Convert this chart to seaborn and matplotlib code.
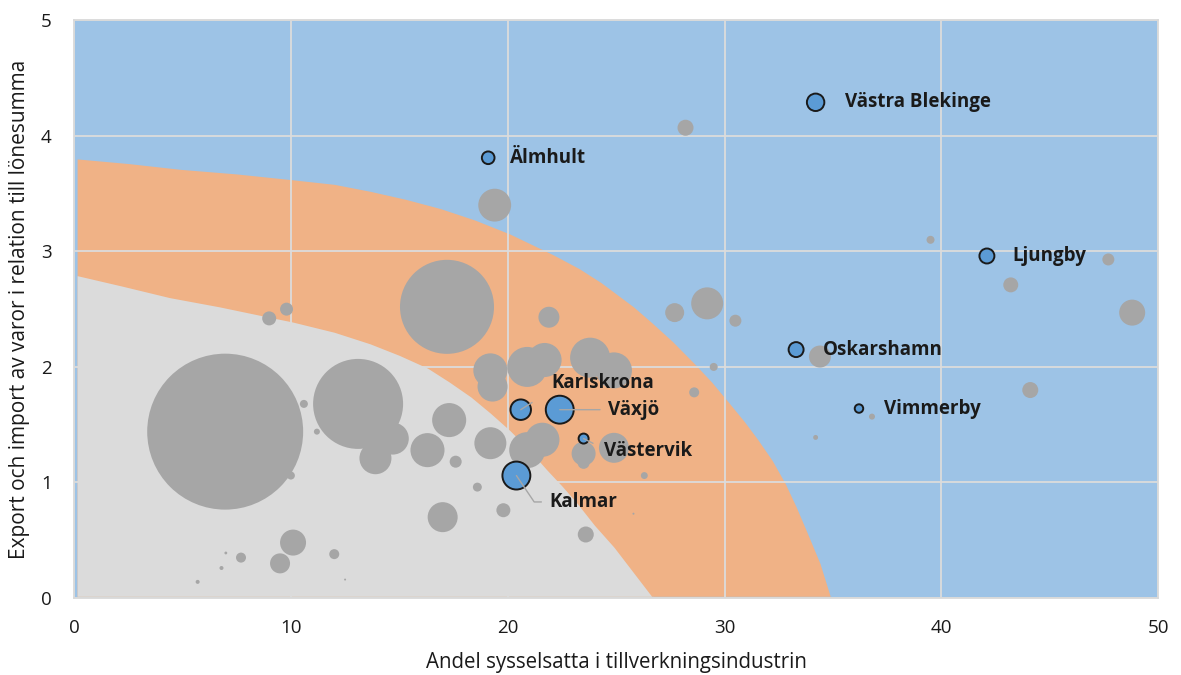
import numpy as np
import pandas as pd
import matplotlib
matplotlib.use("Agg")
import matplotlib.pyplot as plt
import seaborn as sns

# boundary curves of the shaded zones
orange_x = [0.14, 2.5, 4.9, 7.5, 10.05, 12.0, 13.65, 15.3, 16.9, 18.5, 20.1, 22.1,
            23.3, 24.3, 25.8, 26.6, 27.6, 28.6, 29.4, 30.2, 30.9, 31.5, 32.2, 32.8,
            33.3, 33.8, 34.4, 34.9]
orange_y = [3.80, 3.76, 3.71, 3.67, 3.62, 3.58, 3.52, 3.45, 3.37, 3.27, 3.15, 2.97,
            2.85, 2.73, 2.52, 2.39, 2.22, 2.03, 1.87, 1.69, 1.53, 1.38, 1.19, 0.99,
            0.79, 0.57, 0.30, 0.0]
grey_zone_x = [0.14, 2.2, 4.4, 6.7, 9.0, 10.05, 12.0, 13.65, 15.0, 16.3, 17.3, 18.3,
               19.2, 20.1, 21.0, 21.8, 22.5, 23.2, 24.0, 24.9, 25.8, 26.7]
grey_zone_y = [2.79, 2.70, 2.60, 2.52, 2.43, 2.39, 2.30, 2.20, 2.10, 1.99, 1.87, 1.74,
               1.60, 1.45, 1.28, 1.11, 0.97, 0.82, 0.63, 0.44, 0.22, 0.0]

# unlabelled municipalities (grey bubbles); size = relative bubble area
grey_x = [6.97, 13.1, 17.2, 19.4, 28.2, 29.2, 27.7, 30.5, 21.9, 20.9, 21.7, 19.2, 19.3,
          23.8, 24.9, 24.9, 23.5, 23.5, 21.6, 20.9, 17.3, 16.3, 19.2, 17.6, 18.6, 19.8,
          17.0, 23.6, 26.3, 25.8, 28.6, 29.5, 9.0, 9.8, 10.6, 11.2, 14.7, 13.9, 10.1,
          9.5, 12.0, 7.7, 6.8, 7.0, 5.7, 12.5, 10.0, 39.5, 47.7, 43.2, 48.8, 34.4, 44.1,
          36.8, 34.2]
grey_y = [1.44, 1.68, 2.52, 3.40, 4.07, 2.55, 2.47, 2.40, 2.43, 2.00, 2.06, 1.97, 1.83,
          2.08, 1.97, 1.30, 1.25, 1.17, 1.37, 1.28, 1.54, 1.28, 1.34, 1.18, 0.96, 0.76,
          0.70, 0.55, 1.06, 0.73, 1.78, 2.00, 2.42, 2.50, 1.68, 1.44, 1.38, 1.21, 0.48,
          0.30, 0.38, 0.35, 0.26, 0.39, 0.14, 0.16, 1.06, 3.10, 2.93, 2.71, 2.47, 2.09,
          1.80, 1.57, 1.39]
grey_size = [6080, 2025, 2210, 270, 64, 256, 90, 36, 110, 400, 290, 290, 225,
             400, 324, 225, 144, 36, 290, 324, 290, 290, 256, 36, 20, 49,
             225, 64, 12, 1, 25, 16, 49, 42, 16, 9, 256, 256, 169,
             100, 25, 25, 4, 2, 4, 1, 16, 16, 36, 56, 169, 121, 64,
             9, 6]

# labelled municipalities (blue bubbles)
names = ["Västra Blekinge", "Älmhult", "Ljungby", "Oskarshamn", "Vimmerby",
         "Karlskrona", "Växjö", "Västervik", "Kalmar"]
blue_x = [34.2, 19.1, 42.1, 33.3, 36.2, 20.6, 22.4, 23.5, 20.4]
blue_y = [4.29, 3.81, 2.96, 2.15, 1.64, 1.63, 1.63, 1.38, 1.06]
blue_size = [76, 40, 56, 56, 18, 105, 195, 25, 195]

grey_df = pd.DataFrame({"x": grey_x, "y": grey_y, "size": grey_size})
blue_df = pd.DataFrame({"x": blue_x, "y": blue_y, "size": blue_size, "name": names})

FONT = "Open Sans"
dpi = 100
fig = plt.figure(figsize=(11.81, 6.75), dpi=dpi)
ax = fig.add_axes([0.0627, 0.114, 0.918, 0.856])
ax.set_facecolor("#9DC3E6")

# zones
ax.fill_between(orange_x, 0.015, orange_y, color="#F0B286", lw=0, zorder=0.1)
ax.fill_between(grey_zone_x, 0.015, grey_zone_y, color="#DBDBDB", lw=0, zorder=0.2)

# bubble area -> marker area: 1 size unit = 1 px^2 of radius^2
smax = max(grey_size)
sizes = (0, (2 * 0.72) ** 2 * smax)
norm = (0, smax)

sns.scatterplot(data=grey_df, x="x", y="y", size="size", sizes=sizes, size_norm=norm,
                color="#A6A6A6", edgecolor="none", linewidth=0, alpha=1,
                legend=False, ax=ax, zorder=2)
sns.scatterplot(data=blue_df, x="x", y="y", size="size", sizes=sizes, size_norm=norm,
                color="#5B9BD5", edgecolor="#1A1A1A", linewidth=1.4, alpha=1,
                legend=False, ax=ax, zorder=3)

# labels (offsets in points)
offsets = {"Västra Blekinge": (21, 0), "Älmhult": (16, 0), "Ljungby": (18, 0),
           "Oskarshamn": (19, 0), "Vimmerby": (18, 0), "Karlskrona": (22, 19),
           "Växjö": (35, 0), "Västervik": (15, -9), "Kalmar": (24, -19)}
leaders = {"Karlskrona": dict(relpos=(0.0, 0.15), shrinkA=14, connectionstyle="arc3"),
           "Växjö": dict(relpos=(0.0, 0.5), shrinkA=4, connectionstyle="arc3"),
           "Västervik": dict(relpos=(0.0, 0.6), shrinkA=7, connectionstyle="arc3"),
           "Kalmar": dict(relpos=(0.0, 0.5), shrinkA=4,
                          connectionstyle="angle,angleA=0,angleB=-56,rad=0")}
for _, r in blue_df.iterrows():
    kw = {}
    if r["name"] in leaders:
        kw["arrowprops"] = dict(arrowstyle="-", color="#A6A6A6", lw=1.0, shrinkB=0,
                                **leaders[r["name"]])
    ax.annotate(r["name"], (r["x"], r["y"]), xytext=offsets[r["name"]],
                textcoords="offset points", ha="left", va="center",
                fontsize=13.5, fontweight="bold", family=FONT, color="#1A1A1A",
                zorder=4, **kw)

ax.set_xlim(0, 50)
ax.set_ylim(0, 5)
ax.set_xticks(range(0, 51, 10))
ax.set_yticks(range(0, 6))
ax.grid(True, color="#DCDCDC", lw=1.3)
ax.set_axisbelow(True)
ax.tick_params(length=0, labelsize=13.5, colors="#1A1A1A")
ax.tick_params(axis="x", pad=15)
ax.tick_params(axis="y", pad=16)
for lab in ax.get_xticklabels() + ax.get_yticklabels():
    lab.set_family(FONT)
for s in ax.spines.values():
    s.set_color("#D9D9D9")
    s.set_linewidth(1.3)

ax.set_xlabel("Andel sysselsatta i tillverkningsindustrin", fontsize=14.8,
              family=FONT, color="#1A1A1A", labelpad=11)
ax.set_ylabel("Export och import av varor i relation till lönesumma", fontsize=15,
              family=FONT, color="#1A1A1A")
ax.yaxis.set_label_coords(-0.041, 0.5)

fig.savefig("out.png", dpi=dpi)
